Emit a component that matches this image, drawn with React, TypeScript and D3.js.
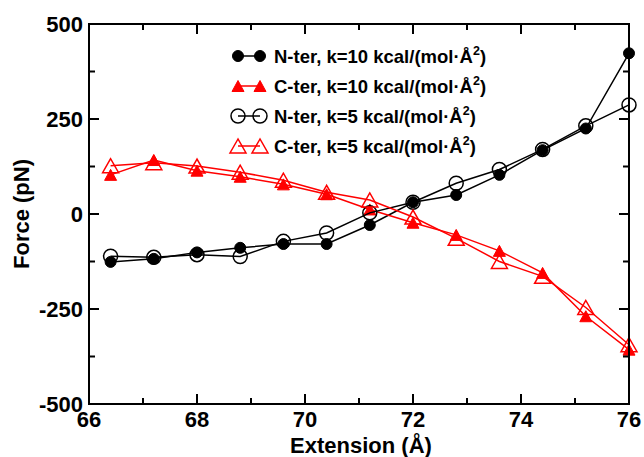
import React from "react";
import * as d3 from "d3";

const extension = [66.4, 67.2, 68.0, 68.8, 69.6, 70.4, 71.2, 72.0, 72.8, 73.6, 74.4, 75.2, 76.0];
const nTerK10 = [-126, -118, -101, -89, -79, -79, -29, 31, 50, 103, 168, 225, 423];
const cTerK10 = [103, 142, 114, 98, 78, 52, 12, -23, -55, -97, -155, -269, -357];
const nTerK5 = [-111, -114, -107, -112, -72, -50, 3, 31, 81, 117, 170, 232, 287];
const cTerK5 = [127, 135, 126, 110, 89, 57, 37, -8, -64, -125, -164, -246, -344];

const xMajorTicks = [66, 68, 70, 72, 74, 76];
const xMinorTicks = [67, 69, 71, 73, 75];
const yMajorTicks = [-500, -250, 0, 250, 500];
const yMinorTicks = [-375, -125, 125, 375];

const seriesLabels = ["N-ter, k=10 kcal/(mol·Å", "C-ter, k=10 kcal/(mol·Å", "N-ter, k=5 kcal/(mol·Å", "C-ter, k=5 kcal/(mol·Å"];

const W = 644, H = 457;
const left = 89, right = 629, top = 24, bottom = 404;
const FONT = "'Liberation Sans', Arial, Helvetica, sans-serif";

type Kind = "filledCircle" | "filledTri" | "openCircle" | "openTri";

function Marker({ kind, x, y, color }: { kind: Kind; x: number; y: number; color: string }) {
  if (kind === "filledCircle") return <circle cx={x} cy={y} r={5.5} fill={color} stroke={color} strokeWidth={1} />;
  if (kind === "openCircle") return <circle cx={x} cy={y} r={7} fill="none" stroke={color} strokeWidth={1.5} />;
  const hw = kind === "filledTri" ? 6 : 8;
  const hh = kind === "filledTri" ? 5.5 : 7;
  const pts = `${x},${y - hh} ${x - hw},${y + hh} ${x + hw},${y + hh}`;
  if (kind === "filledTri") return <polygon points={pts} fill={color} stroke={color} strokeWidth={1} />;
  return <polygon points={pts} fill="none" stroke={color} strokeWidth={1.5} strokeLinejoin="miter" />;
}

export default function App() {
  const x = d3.scaleLinear().domain([66, 76]).range([left, right]);
  const y = d3.scaleLinear().domain([-500, 500]).range([bottom, top]);

  const series = [
    { values: nTerK10, color: "#000000", kind: "filledCircle" as Kind, label: seriesLabels[0] },
    { values: cTerK10, color: "#ff0000", kind: "filledTri" as Kind, label: seriesLabels[1] },
    { values: nTerK5, color: "#000000", kind: "openCircle" as Kind, label: seriesLabels[2] },
    { values: cTerK5, color: "#ff0000", kind: "openTri" as Kind, label: seriesLabels[3] },
  ];

  const line = d3
    .line<number>()
    .x((_, i) => x(extension[i]))
    .y((d) => y(d));

  return (
    <svg width={W} height={H} style={{ position: "absolute", left: 0, top: 0, background: "#fff" }} fontFamily={FONT}>
      <rect x={0} y={0} width={W} height={H} fill="#fff" />
      {/* data */}
      {series.map((s, si) => (
        <g key={si}>
          <path d={line(s.values) || ""} fill="none" stroke={s.color} strokeWidth={1.5} />
          {s.values.map((v, i) => (
            <Marker key={i} kind={s.kind} x={x(extension[i])} y={y(v)} color={s.color} />
          ))}
        </g>
      ))}
      {/* frame */}
      <rect x={left} y={top} width={right - left} height={bottom - top} fill="none" stroke="#000" strokeWidth={2} />
      {/* ticks */}
      {xMajorTicks.map((t) => (
        <g key={"xM" + t}>
          <line x1={x(t)} x2={x(t)} y1={bottom} y2={bottom - 10} stroke="#000" strokeWidth={2} />
          <line x1={x(t)} x2={x(t)} y1={top} y2={top + 10} stroke="#000" strokeWidth={2} />
          <text x={x(t)} y={427} textAnchor="middle" fontSize={22} fontWeight="bold">{t}</text>
        </g>
      ))}
      {xMinorTicks.map((t) => (
        <g key={"xm" + t}>
          <line x1={x(t)} x2={x(t)} y1={bottom} y2={bottom - 6} stroke="#000" strokeWidth={2} />
          <line x1={x(t)} x2={x(t)} y1={top} y2={top + 6} stroke="#000" strokeWidth={2} />
        </g>
      ))}
      {yMajorTicks.map((t) => (
        <g key={"yM" + t}>
          <line x1={left} x2={left + 10} y1={y(t)} y2={y(t)} stroke="#000" strokeWidth={2} />
          <line x1={right} x2={right - 10} y1={y(t)} y2={y(t)} stroke="#000" strokeWidth={2} />
          <text x={83} y={y(t) + 8} textAnchor="end" fontSize={22} fontWeight="bold">{t}</text>
        </g>
      ))}
      {yMinorTicks.map((t) => (
        <g key={"ym" + t}>
          <line x1={left} x2={left + 6} y1={y(t)} y2={y(t)} stroke="#000" strokeWidth={2} />
          <line x1={right} x2={right - 6} y1={y(t)} y2={y(t)} stroke="#000" strokeWidth={2} />
        </g>
      ))}
      {/* axis titles */}
      <text x={(left + right) / 2 + 2} y={453} textAnchor="middle" fontSize={22} fontWeight="bold">Extension (Å)</text>
      <text transform={`translate(29, ${(top + bottom) / 2}) rotate(-90)`} textAnchor="middle" fontSize={22} fontWeight="bold">Force (pN)</text>
      {/* legend */}
      {series.map((s, i) => {
        const cy = 56 + 30 * i;
        return (
          <g key={"lg" + i}>
            <line x1={238} x2={260} y1={cy} y2={cy} stroke={s.color} strokeWidth={1.5} />
            <Marker kind={s.kind} x={238} y={cy} color={s.color} />
            <Marker kind={s.kind} x={260} y={cy} color={s.color} />
            <text x={274} y={cy + 6.6} fontSize={18.5} fontWeight="bold">
              {s.label}
              <tspan dy={-8} fontSize={12.5}>2</tspan>
              <tspan dy={8}>)</tspan>
            </text>
          </g>
        );
      })}
    </svg>
  );
}
